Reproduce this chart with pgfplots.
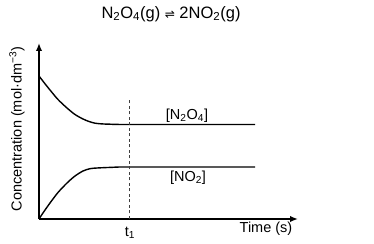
\documentclass[border=0pt]{standalone}
\usepackage{fontspec}
\setmainfont{Liberation Sans}
\newfontfamily\dejavu{DejaVu Sans}
\usepackage{pgfplots}
\pgfplotsset{compat=1.18}
\usetikzlibrary{arrows.meta}
\begin{document}
\begin{tikzpicture}[font=\fontsize{14.5bp}{17bp}\selectfont]
\path[use as bounding box] (-39bp,-25bp) rectangle (335bp,219bp);
\begin{axis}[
  at={(0,0)}, anchor=origin,
  scale only axis, width=259bp, height=176bp,
  xmin=0, xmax=259, ymin=0, ymax=176,
  axis x line=bottom, axis y line=left,
  axis line style={line width=1.6bp, -{Latex[length=8bp,width=6.5bp]}},
  xtick=\empty, ytick=\empty,
  clip=false,
]
\addplot[black, line width=1.4bp, smooth, tension=0.5] coordinates {
 (0,143) (5,136.5) (11,129) (19,119.5) (28,111) (36,104.5) (44,100) (50,97.5) (56,95.8) (63,95.1) (71,94.8) (90,94.5) (216,94.5)};
\addplot[black, line width=1.4bp, smooth, tension=0.5] coordinates {
 (0,0) (5,7.5) (11,16) (19,26.5) (28,36) (36,43) (44,48) (51,50.3) (58,51) (74,51.7) (90,52) (216,52)};
\addplot[black!75, line width=0.9bp, dash pattern=on 3bp off 2.5bp] coordinates {(90,0) (90,119)};
\node at (axis cs:148,103) {[N\textsubscript{2}O\textsubscript{4}]};
\node at (axis cs:149,41) {[NO\textsubscript{2}]};
\node at (axis cs:91,-14) {t\textsubscript{1}};
\node at (axis cs:227,-10) {Time (s)};
\node[rotate=90] at (axis cs:-22,90) {Concentration (mol·dm\textsuperscript{−3})};
\node[font=\fontsize{16.5bp}{19bp}\selectfont] at (axis cs:132,205) {N\textsubscript{2}O\textsubscript{4}(g) {\dejavu\fontsize{12bp}{14bp}\selectfont ⇌} 2NO\textsubscript{2}(g)};
\end{axis}
\end{tikzpicture}
\end{document}
